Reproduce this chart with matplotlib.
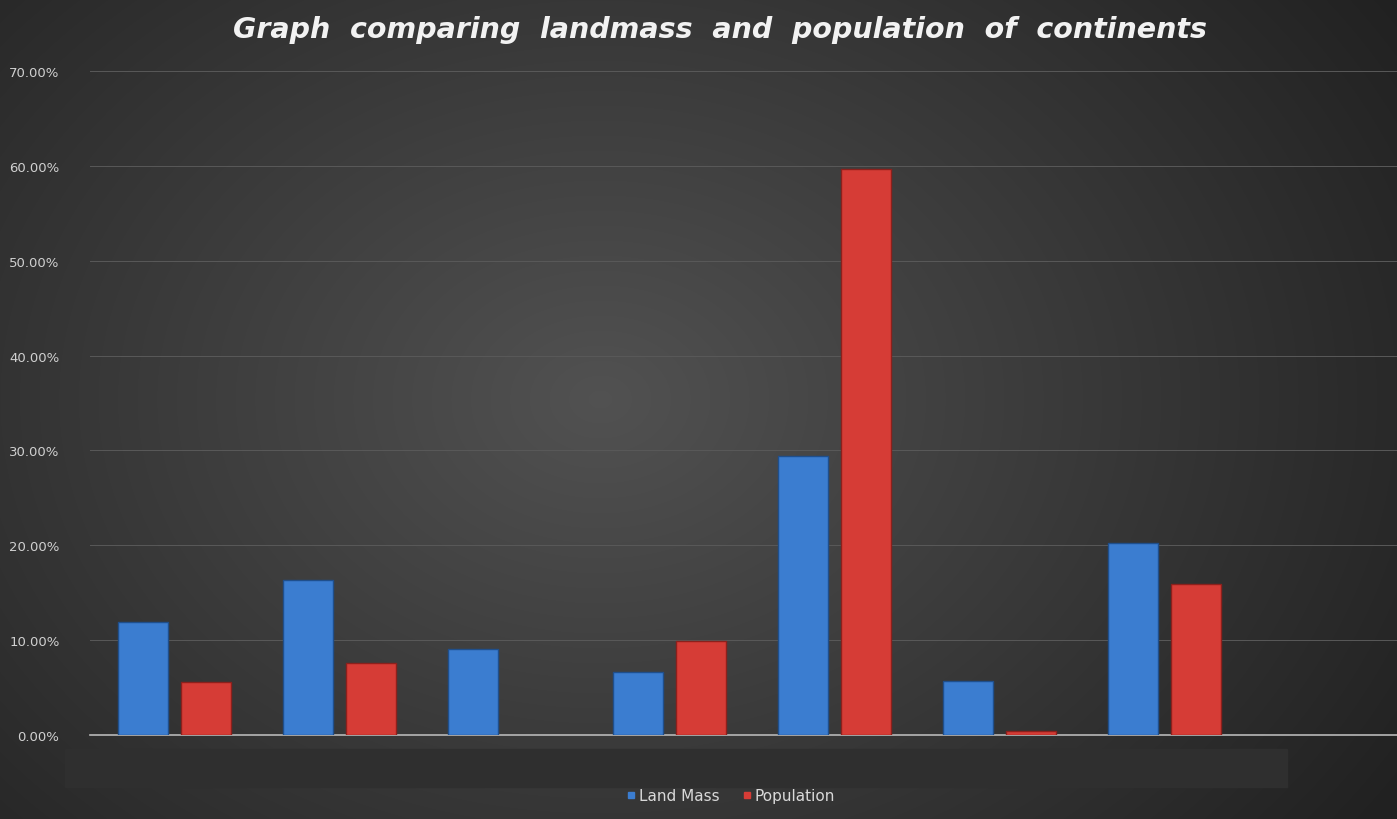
import numpy as np
import matplotlib
matplotlib.use("Agg")
import matplotlib.pyplot as plt
from matplotlib.ticker import FuncFormatter, MultipleLocator
from matplotlib.lines import Line2D

# ---- data ----
categories = ["", "", "", "", "", "", ""]
land_mass = [0.119, 0.163, 0.091, 0.066, 0.294, 0.057, 0.202]
population = [0.056, 0.076, 0.0, 0.099, 0.597, 0.004, 0.159]
series_names = ["Land Mass", "Population"]
title = "Graph  comparing  landmass  and  population  of  continents"

W, H, DPI = 1397, 820, 100
fig = plt.figure(figsize=(W / DPI, H / DPI), dpi=DPI)

# radial gradient background
bg = fig.add_axes([0, 0, 1, 1], zorder=0)
yy, xx = np.mgrid[0:H, 0:W]
cx, cy = 600, 400
d = np.sqrt(((xx - cx) / 850.0) ** 2 + ((yy - cy) / 650.0) ** 2)
v = np.clip(0.32 - 0.17 * d, 0.13, 0.32)
img = np.dstack([v, v, v])
bg.imshow(img, aspect="auto", extent=[0, W, H, 0])
bg.set_xlim(0, W)
bg.set_ylim(H, 0)
bg.axis("off")
# empty category band
bg.add_patch(plt.Rectangle((65, 750), 1222, 38, color="#2f2f2f", zorder=2))

ax = fig.add_axes([90 / W, 1 - 736 / H, 1 - 90 / W, (736 - 72) / H], zorder=1)
ax.patch.set_alpha(0)

x = np.arange(len(categories))
bw = 0.30
off = 0.19
lw_b = [1.0 if v > 0 else 0 for v in land_mass]
lw_r = [1.0 if v > 0 else 0 for v in population]
ax.bar(x - off, land_mass, width=bw, color="#3b7dd0", edgecolor="#1f4f8c",
       linewidth=lw_b, zorder=3)
ax.bar(x + off, population, width=bw, color="#d63c36", edgecolor="#8c201c",
       linewidth=lw_r, zorder=3)

ax.set_xlim((90 - 174.5) / 165, (1397 - 174.5) / 165)
ax.set_ylim(0, 0.70)
ax.yaxis.set_major_locator(MultipleLocator(0.10))
ax.yaxis.set_major_formatter(FuncFormatter(lambda v, p: f"{v*100:.2f}%"))
ax.grid(axis="y", color="#595959", linewidth=0.7, zorder=0)
ax.set_axisbelow(True)
ax.set_xticks(x)
ax.set_xticklabels(categories)
ax.tick_params(axis="x", length=0)
ax.tick_params(axis="y", length=0, colors="#d0d0d0", labelsize=9.5, pad=22)
for s in ["top", "right", "left"]:
    ax.spines[s].set_visible(False)
ax.spines["bottom"].set_color("#b8b8b8")
ax.spines["bottom"].set_linewidth(1.2)

fig.text(720 / W, 1 - 30 / H, title, ha="center", va="center",
         color="#f2f2f2", fontsize=20.5, fontweight="bold", style="italic",
         family="DejaVu Sans")

handles = [Line2D([], [], marker="s", linestyle="", color="#3b7dd0", markersize=5),
           Line2D([], [], marker="s", linestyle="", color="#d63c36", markersize=5)]
fig.legend(handles, series_names, loc="center", bbox_to_anchor=(730 / W, 1 - 797 / H),
           ncol=2, frameon=False, fontsize=11, labelcolor="#d9d9d9",
           handletextpad=0.1, columnspacing=1.4, handlelength=0.8)

fig.savefig("out.png", dpi=DPI)
